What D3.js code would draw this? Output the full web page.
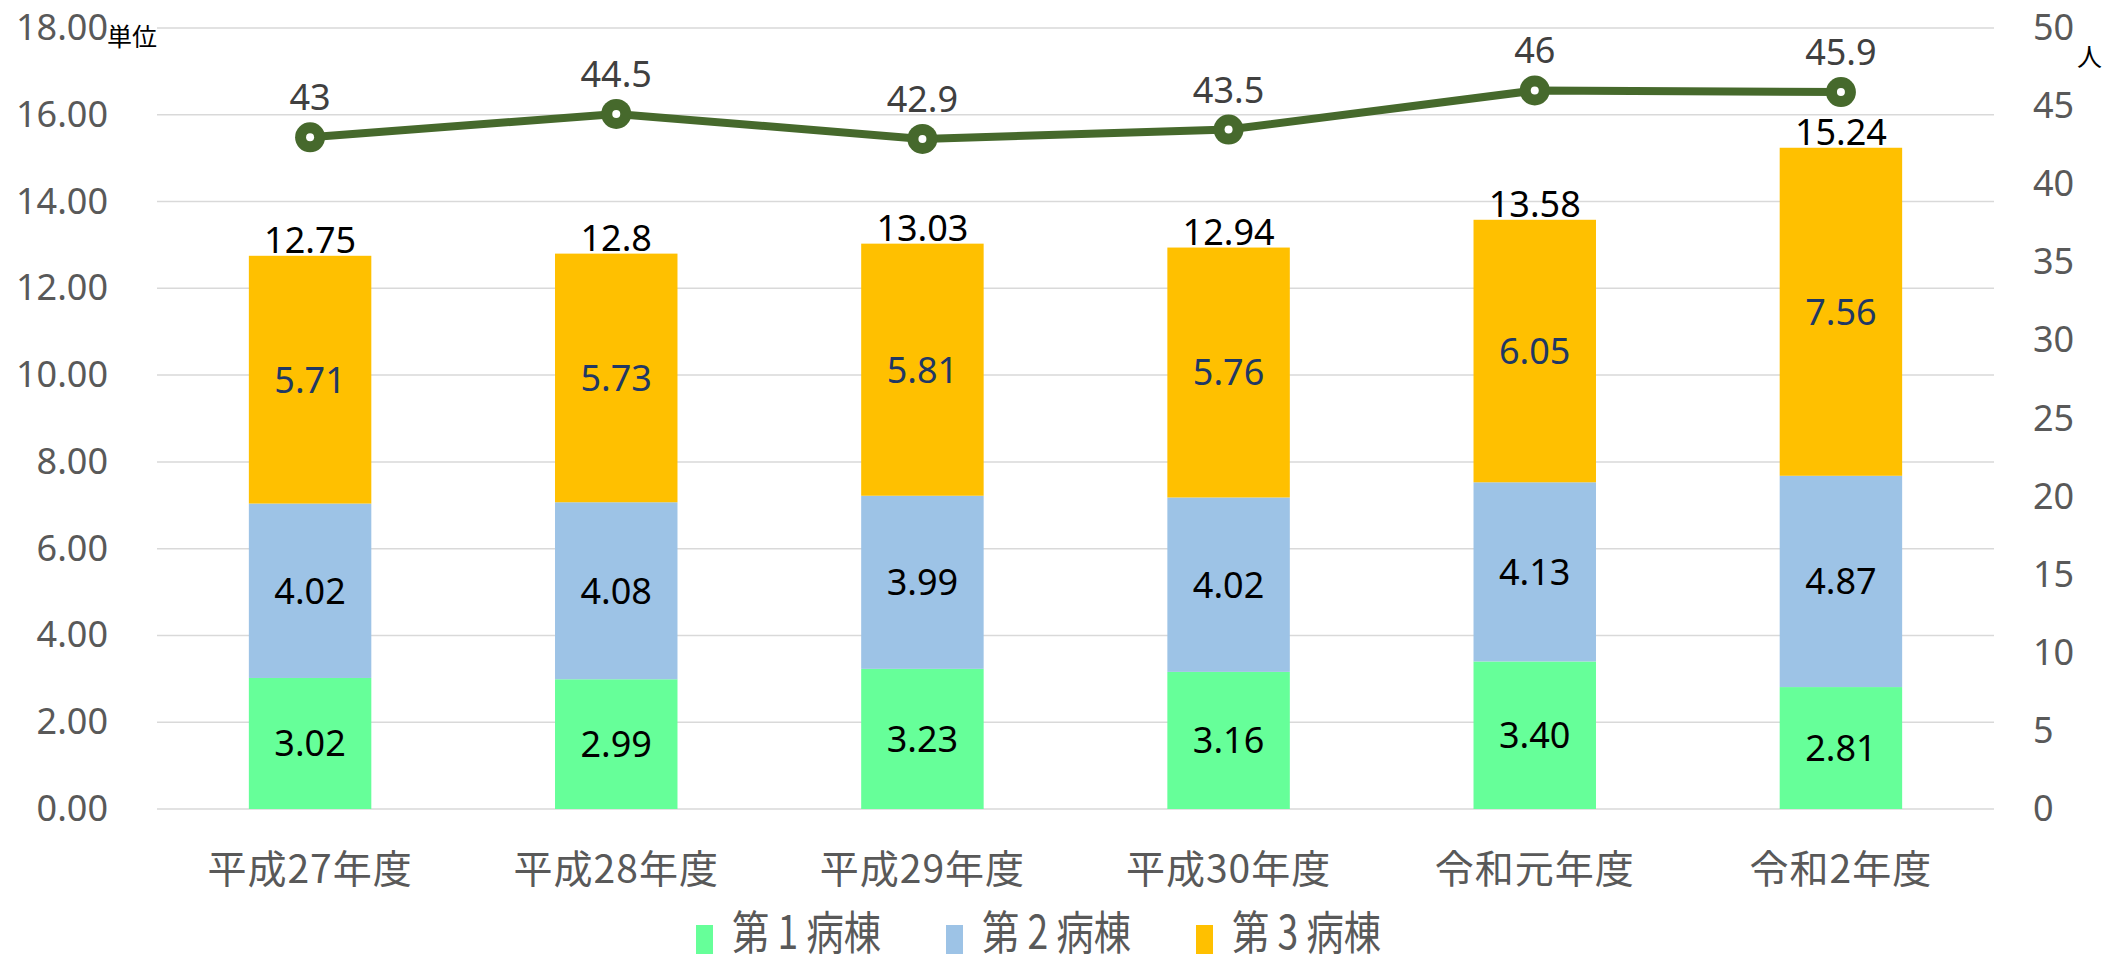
<!DOCTYPE html>
<html>
<head>
<meta charset="utf-8">
<script src="https://cdn.jsdelivr.net/npm/d3@7"></script>
<style>
  body { margin: 0; background: #fff; }
  svg { display: block; }
</style>
</head>
<body>
<script>
'use strict';

// data
const categories = ["平成27年度", "平成28年度", "平成29年度", "平成30年度", "令和元年度", "令和2年度"];
const ward1 = [3.02, 2.99, 3.23, 3.16, 3.40, 2.81];
const ward2 = [4.02, 4.08, 3.99, 4.02, 4.13, 4.87];
const ward3 = [5.71, 5.73, 5.81, 5.76, 6.05, 7.56];
const totalLabels = ["12.75", "12.8", "13.03", "12.94", "13.58", "15.24"];
const staff = [43, 44.5, 42.9, 43.5, 46, 45.9];
const seriesNames = ["第 1 病棟", "第 2 病棟", "第 3 病棟"];
const leftTicks = [0, 2, 4, 6, 8, 10, 12, 14, 16, 18];
const rightTicks = [0, 5, 10, 15, 20, 25, 30, 35, 40, 45, 50];

const colors = ["#66FF99", "#9DC3E6", "#FFC000"];
const labelColors = ["#000000", "#000000", "#1F3864"];
const lineColor = "#46692C";

const width = 2107, height = 962;
const margin = {top: 28, right: 113, bottom: 153, left: 157};
const plotW = width - margin.left - margin.right;
const plotH = height - margin.top - margin.bottom;

const numFont = "'Noto Sans', 'Open Sans', sans-serif";
const cjkFont = "'Noto Sans CJK JP', sans-serif";

const svg = d3.select("body").append("svg")
  .attr("width", width)
  .attr("height", height);

const g = svg.append("g")
  .attr("transform", `translate(${margin.left},${margin.top})`);

const x = d3.scaleBand()
  .domain(categories)
  .range([0, plotW])
  .paddingInner(0.6)
  .paddingOuter(0.3);

const y = d3.scaleLinear().domain([0, 18]).range([plotH, 0]);
const y2 = d3.scaleLinear().domain([0, 50]).range([plotH, 0]);

// gridlines
g.selectAll(".grid")
  .data(leftTicks)
  .enter().append("line")
  .attr("x1", 0).attr("x2", plotW)
  .attr("y1", d => y(d)).attr("y2", d => y(d))
  .attr("stroke", "#D9D9D9")
  .attr("stroke-width", 1.5);

// left axis
const leftAxis = g.append("g")
  .call(d3.axisLeft(y).tickValues(leftTicks).tickFormat(d3.format(".2f")).tickSize(0).tickPadding(49));
leftAxis.select(".domain").remove();
leftAxis.selectAll("text")
  .attr("fill", "#595959")
  .style("font-family", numFont)
  .style("font-size", "36px");

// right axis
const rightAxis = g.append("g")
  .attr("transform", `translate(${plotW},0)`)
  .call(d3.axisRight(y2).tickValues(rightTicks).tickSize(0).tickPadding(39));
rightAxis.select(".domain").remove();
rightAxis.selectAll("text")
  .attr("fill", "#595959")
  .style("font-family", numFont)
  .style("font-size", "36px");

// unit labels
svg.append("text")
  .attr("x", 107).attr("y", 46)
  .attr("font-family", cjkFont)
  .attr("font-size", 25)
  .attr("fill", "#000")
  .text("単位");
svg.append("text")
  .attr("x", 2077).attr("y", 66)
  .attr("font-family", cjkFont)
  .attr("font-size", 25)
  .attr("fill", "#000")
  .text("人");

// stacked bars
const rows = categories.map((c, i) => ({cat: c, a: ward1[i], b: ward2[i], c3: ward3[i]}));
const stack = d3.stack().keys(["a", "b", "c3"]);
const layers = stack(rows);

const layerG = g.selectAll(".layer")
  .data(layers)
  .enter().append("g")
  .attr("fill", (d, i) => colors[i]);

layerG.selectAll("rect")
  .data(d => d)
  .enter().append("rect")
  .attr("x", d => x(d.data.cat))
  .attr("width", x.bandwidth())
  .attr("y", d => y(d[1]))
  .attr("height", d => y(d[0]) - y(d[1]));

layerG.each(function(layer, li) {
  d3.select(this).selectAll("text")
    .data(layer)
    .enter().append("text")
    .attr("x", d => x(d.data.cat) + x.bandwidth() / 2)
    .attr("y", d => y((d[0] + d[1]) / 2))
    .attr("dy", "0.36em")
    .attr("text-anchor", "middle")
    .attr("fill", labelColors[li])
    .attr("font-family", numFont)
    .attr("font-size", 36)
    .text(d => d3.format(".2f")(d[1] - d[0]));
});

// totals
g.selectAll(".total")
  .data(rows)
  .enter().append("text")
  .attr("x", d => x(d.cat) + x.bandwidth() / 2)
  .attr("y", d => y(d.a + d.b + d.c3) - 3)
  .attr("text-anchor", "middle")
  .attr("fill", "#000")
  .attr("font-family", numFont)
  .attr("font-size", 36)
  .text((d, i) => totalLabels[i]);

// staff line
const cx = (d, i) => x(categories[i]) + x.bandwidth() / 2;
const line = d3.line()
  .x(cx)
  .y(d => y2(d));

g.append("path")
  .datum(staff)
  .attr("fill", "none")
  .attr("stroke", lineColor)
  .attr("stroke-width", 8)
  .attr("d", line);

g.selectAll(".marker")
  .data(staff)
  .enter().append("circle")
  .attr("cx", cx)
  .attr("cy", d => y2(d))
  .attr("r", 15)
  .attr("fill", lineColor);

g.selectAll(".hole")
  .data(staff)
  .enter().append("circle")
  .attr("cx", cx)
  .attr("cy", d => y2(d))
  .attr("r", 4)
  .attr("fill", "#fff");

g.selectAll(".staffLabel")
  .data(staff)
  .enter().append("text")
  .attr("x", cx)
  .attr("y", d => y2(d) - 27)
  .attr("text-anchor", "middle")
  .attr("fill", "#404040")
  .attr("font-family", numFont)
  .attr("font-size", 36)
  .text(d => d);

// category labels
g.selectAll(".cat")
  .data(categories)
  .enter().append("text")
  .attr("x", d => x(d) + x.bandwidth() / 2)
  .attr("y", plotH + 74)
  .attr("text-anchor", "middle")
  .attr("fill", "#595959")
  .attr("font-family", cjkFont)
  .attr("font-size", 39)
  .attr("letter-spacing", 1)
  .text(d => d);

// legend
const legend = svg.append("g");
const item = legend.selectAll(".item")
  .data(seriesNames)
  .enter().append("g")
  .attr("transform", (d, i) => `translate(${696 + i * 250},0)`);

item.append("rect")
  .attr("x", 0).attr("y", 925)
  .attr("width", 17).attr("height", 29)
  .attr("fill", (d, i) => colors[i]);

item.append("text")
  .attr("transform", "translate(36,949) scale(0.81,1)")
  .attr("fill", "#595959")
  .attr("font-family", cjkFont)
  .attr("font-size", 46)
  .text(d => d);
</script>
</body>
</html>
